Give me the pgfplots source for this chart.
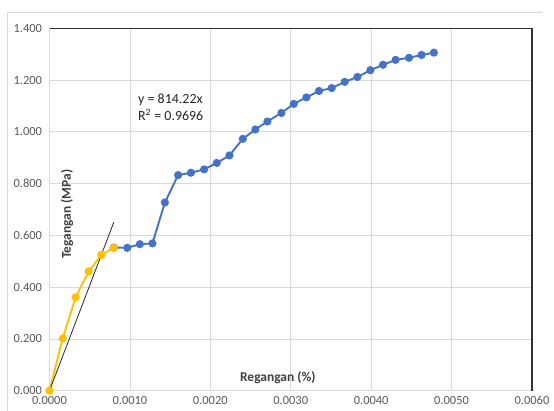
\documentclass[border=0pt]{standalone}
\usepackage{pgfplots}
\pgfplotsset{compat=1.18}
\usepackage{fontspec}
\setmainfont{Carlito}
\definecolor{exblue}{HTML}{4472C4}
\definecolor{exyel}{HTML}{FFC000}
\definecolor{tickgray}{HTML}{595959}
\definecolor{labgray}{HTML}{404040}
\definecolor{gridgray}{HTML}{D9D9D9}
\begin{document}
\begin{tikzpicture}
\draw[gridgray, line width=0.8pt] (7.3bp,0bp) -- (7.3bp,399bp) -- (541.5bp,399bp);
\begin{axis}[
  at={(49.5bp,20.3bp)}, anchor=south west,
  scale only axis, width=482.5bp, height=362.4bp,
  xmin=0, xmax=0.006, ymin=0, ymax=1.4,
  xtick={0,0.001,0.002,0.003,0.004,0.005,0.006},
  ytick={0,0.2,0.4,0.6,0.8,1.0,1.2,1.4},
  grid=major, major grid style={gridgray, line width=0.8pt},
  axis line style={draw=none},
  major tick length=0pt,
  clip=false,
  /pgf/number format/assume math mode=true,
  xticklabel style={/pgf/number format/fixed, /pgf/number format/fixed zerofill, /pgf/number format/precision=4, font=\fontsize{12.5}{14}\selectfont, text=tickgray, yshift=-2bp},
  yticklabel style={/pgf/number format/fixed, /pgf/number format/fixed zerofill, /pgf/number format/precision=3, font=\fontsize{12.5}{14}\selectfont, text=tickgray, xshift=-4bp},
  scaled x ticks=false, scaled y ticks=false,
]
\draw[gridgray, line width=0.8pt] (rel axis cs:0,1) -- (rel axis cs:0,0) -- (rel axis cs:1,0);
\draw[black!80, line width=1.1pt] (rel axis cs:0,1) -- (rel axis cs:1,1) -- (rel axis cs:1,0);
\addplot[exblue, line width=1.9pt, mark=*, mark size=3.1pt, mark options={fill=exblue, draw=exblue}] coordinates {
(0.0008,0.553)(0.000967,0.552)(0.001124,0.566)(0.00128,0.569)(0.001435,0.727)(0.0016,0.833)(0.001758,0.842)(0.001923,0.855)(0.00208,0.880)(0.002238,0.909)(0.002404,0.973)(0.00256,1.009)(0.00271,1.040)(0.002884,1.073)(0.003037,1.108)(0.003195,1.133)(0.003352,1.158)(0.003509,1.169)(0.003671,1.193)(0.003829,1.212)(0.00399,1.238)(0.004147,1.259)(0.004304,1.278)(0.00447,1.286)(0.004627,1.297)(0.00478,1.306)
};
\addplot[exyel, line width=1.9pt, mark=*, mark size=3.1pt, mark options={fill=exyel, draw=exyel}] coordinates {
(0,0)(0.000164,0.202)(0.000325,0.361)(0.000487,0.461)(0.000644,0.524)(0.0008,0.552)
};
\addplot[black!85, line width=0.8pt] coordinates {(0,0)(0.0008,0.651)};
\node[anchor=west, align=left, font=\fontsize{14}{17}\selectfont, text=black!85, inner sep=0pt] at (axis cs:0.00110,1.094) {y = 814.22x\\R\textsuperscript{2} = 0.9696};
\node[rotate=90, font=\fontsize{13.5}{15}\selectfont\bfseries, text=labgray] at (axis cs:0.000217,0.682) {Tegangan (MPa)};
\node[font=\fontsize{13.5}{15}\selectfont\bfseries, text=labgray] at (axis cs:0.002839,0.050) {Regangan (\%)};
\end{axis}
\pgfresetboundingbox
\path[use as bounding box] (0bp,0bp) rectangle (554bp,411bp);
\end{tikzpicture}
\end{document}
